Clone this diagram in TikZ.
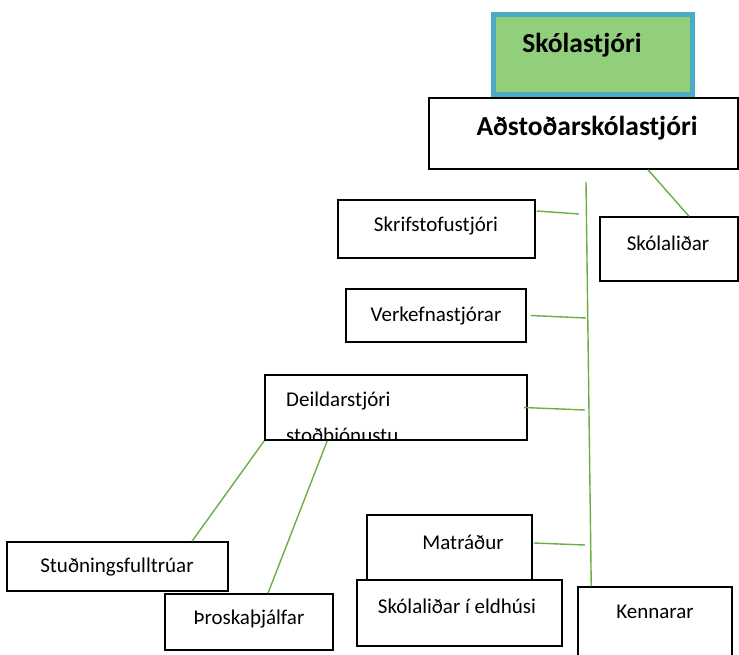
\documentclass[tikz,border=0pt]{standalone}
\usepackage{fontspec}
\setmainfont{Carlito}
\definecolor{lnk}{HTML}{6AAE45}
\definecolor{tealb}{HTML}{4BACC6}
\definecolor{gfill}{HTML}{92CF7D}
\tikzset{
  box/.style={draw=black, line width=1.5pt, fill=white, rectangle, inner sep=0pt},
  lbl/.style={inner sep=0pt, font=\fontsize{21}{25}\selectfont},
  blbl/.style={inner sep=0pt, font=\fontsize{27.5}{32}\selectfont\bfseries},
  lnkline/.style={draw=lnk, line width=1.4pt}
}
\begin{document}
\begin{tikzpicture}[x=1pt,y=-1pt]
\useasboundingbox (0,0) rectangle (739,654);
% boxes
\node[box, draw=tealb, line width=5pt, fill=gfill, minimum width=199pt, minimum height=80pt] (sk) at (593,54.5) {};
\node[box, minimum width=309pt, minimum height=71pt] (adst) at (583.5,133.5) {};
\node[box, minimum width=197pt, minimum height=58pt] (skrif) at (436.5,229) {};
\node[box, minimum width=138pt, minimum height=64pt] (skol) at (669,249) {};
\node[box, minimum width=180pt, minimum height=53pt] (verk) at (436,315.5) {};
\node[box, minimum width=262pt, minimum height=65pt] (deild) at (396,407.5) {};
\node[box, minimum width=221pt, minimum height=49pt] (studn) at (117.5,566.5) {};
\node[box, minimum width=168pt, minimum height=56pt] (throsk) at (249,622) {};
\node[box, minimum width=165pt, minimum height=65pt] (matr) at (449.5,547.5) {};
\node[box, minimum width=205pt, minimum height=66pt] (eld) at (459.5,613) {};
\node[box, minimum width=154pt, minimum height=82pt] (kenn) at (655,628) {};
% texts
\node[blbl] (tsk) at (582,45) {Skólastjóri};
\node[blbl] (tadst) at (587,128) {Aðstoðarskólastjóri};
\node[lbl] (tskrif) at (436,226) {Skrifstofustjóri};
\node[lbl] (tskol) at (668,243) {Skólaliðar};
\node[lbl] (tverk) at (436,316) {Verkefnastjórar};
\node[lbl, anchor=base west] (tdeild) at (286,406) {Deildarstjóri};
\begin{scope}
  \clip (266,376) rectangle (526,438.5);
  \node[lbl, anchor=base west] (tdeild2) at (286,442) {stoðþjónustu};
\end{scope}
\node[lbl] (tstudn) at (117,567) {Stuðningsfulltrúar};
\node[lbl] (tthrosk) at (249,619) {Þroskaþjálfar};
\node[lbl] (tmatr) at (463,542) {Matráður};
\node[lbl] (teld) at (457,606) {Skólaliðar í eldhúsi};
\node[lbl] (tkenn) at (655,612) {Kennarar};
% connectors
\coordinate (stop) at (586,182);
\coordinate (c1) at (579,214);
\coordinate (c2) at (586,318);
\coordinate (c3) at (585,410);
\coordinate (c4) at (585,545);
\draw[lnkline] (stop) -- ([xshift=14pt]kenn.north west);
\draw[lnkline] ([xshift=64.5pt]adst.south) -- ([xshift=20pt]skol.north);
\draw[lnkline] ([yshift=18pt,xshift=1pt]skrif.east) -- (c1);
\draw[lnkline] ([xshift=4pt]verk.east) -- (c2);
\draw[lnkline] ([xshift=-4pt]deild.east) -- (c3);
\draw[lnkline] ([yshift=4.5pt,xshift=1pt]matr.east) -- (c4);
\draw[lnkline] (deild.south west) -- ([xshift=74.5pt]studn.north);
\draw[lnkline] ([xshift=63pt]deild.south west) -- ([xshift=19pt]throsk.north);
\end{tikzpicture}
\end{document}
